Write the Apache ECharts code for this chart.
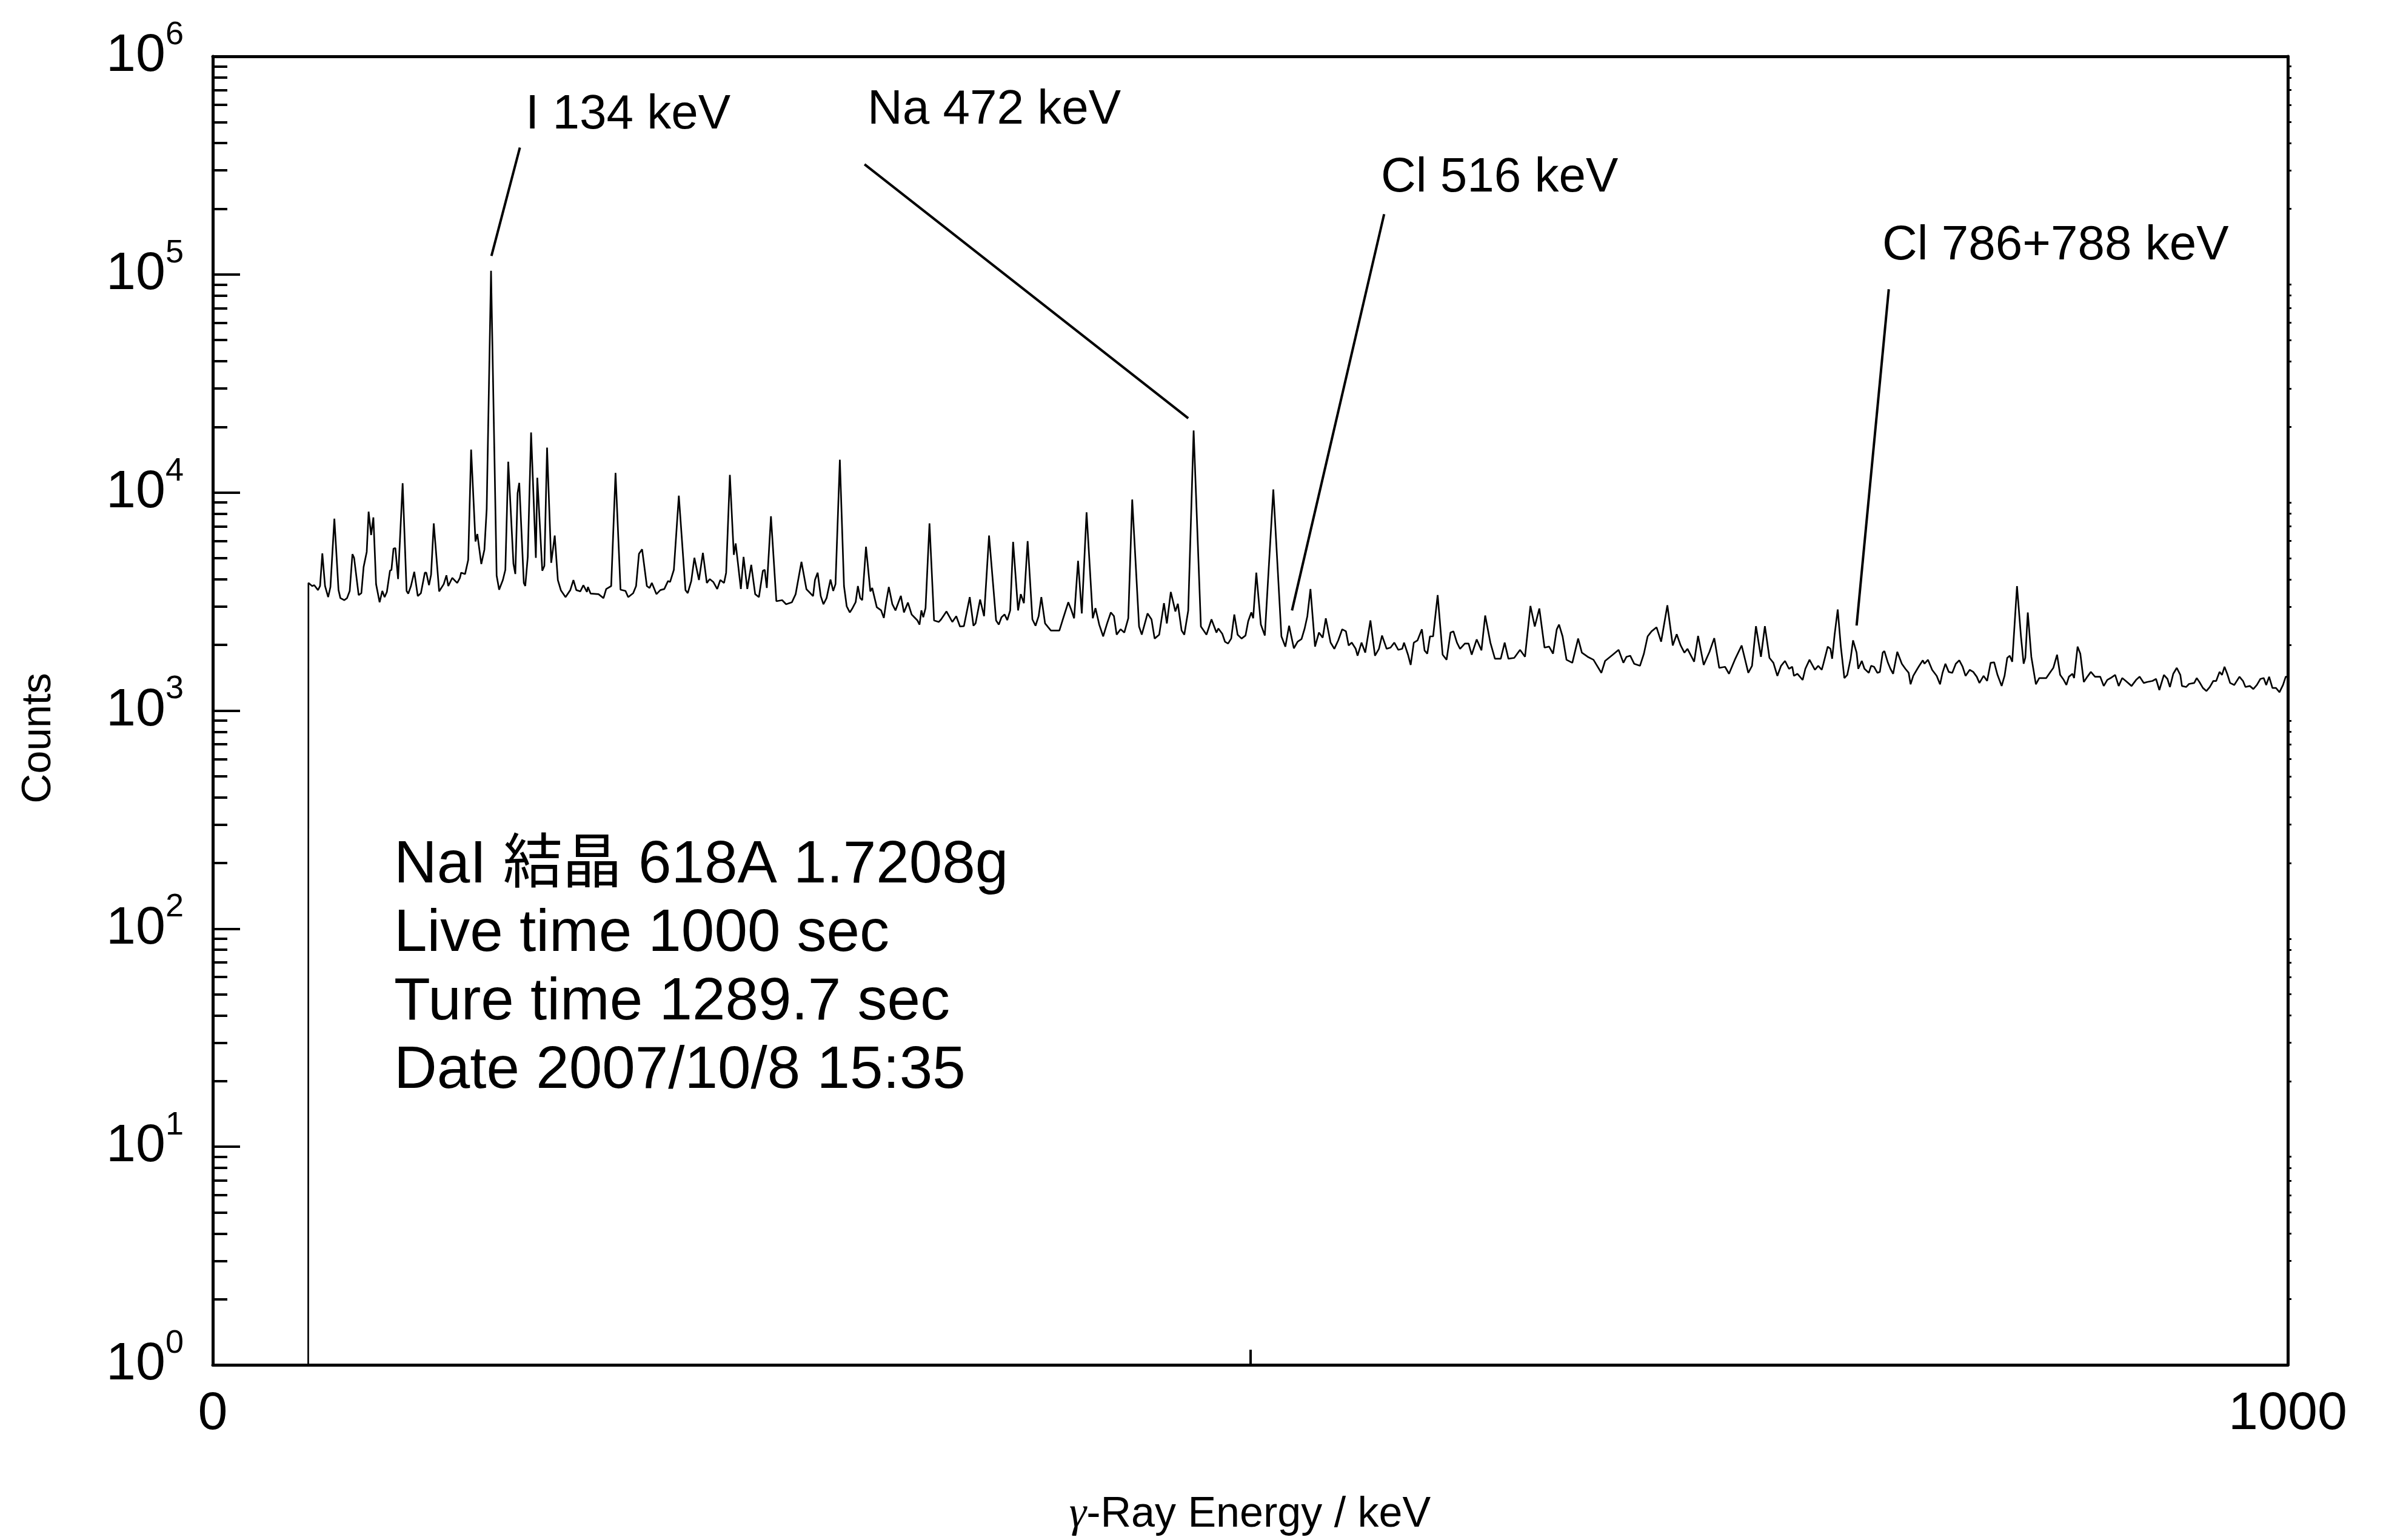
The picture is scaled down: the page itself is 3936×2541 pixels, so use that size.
<!DOCTYPE html>
<html><head><meta charset="utf-8">
<script src="https://cdn.jsdelivr.net/npm/echarts@6/dist/echarts.min.js"></script>
<style>html,body{margin:0;padding:0;background:#fff}#c{width:3936px;height:2541px}</style>
</head><body><div id="c"></div>
<script>
// ---------------- DATA ----------------
const energyKeV = [
46.0,46.1,46.6,47.9,48.9,50.7,51.7,52.8,54.1,55.6,56.7,58.6,60.6,61.5,63.4,64.7,66.0,67.3,68.1,70.3,
71.6,72.7,74.2,75.1,76.3,77.4,78.7,80.4,81.7,82.8,83.9,85.4,86.1,87.1,88.0,89.3,91.5,93.4,94.2,95.5,
97.1,98.8,100.3,102.2,102.9,104.2,105.2,106.5,109.1,111.3,112.6,113.5,115.4,117.8,119.1,119.7,121.6,123.1,124.5,126.6,
127.5,129.4,130.9,132.0,134.1,136.8,138.0,139.8,141.0,142.4,144.9,145.8,146.9,147.7,149.9,150.6,151.8,153.4,155.7,156.4,
158.8,159.8,161.1,163.1,164.8,166.3,167.8,170.0,172.3,173.8,175.2,177.1,178.6,180.3,180.8,182.1,185.9,188.3,189.6,192.0,
194.1,196.5,198.9,200.2,202.6,204.0,205.4,206.9,209.2,210.5,211.6,213.8,215.7,217.6,219.4,220.4,222.2,224.6,227.8,228.9,
230.6,232.1,234.3,236.2,238.1,239.5,241.2,243.1,244.6,246.4,247.4,249.2,251.1,252.0,254.5,255.8,257.6,259.5,261.4,263.2,
265.1,266.0,267.0,269.0,271.6,274.4,276.3,279.1,280.9,283.7,286.1,287.4,289.3,290.2,291.5,293.0,294.3,295.8,297.7,299.0,
300.1,302.2,304.2,305.5,307.0,308.3,309.8,310.9,312.0,313.0,314.8,316.9,317.8,320.0,322.1,323.4,324.5,325.8,327.5,329.0,
331.6,333.1,335.0,336.8,338.1,339.6,340.6,341.5,342.4,343.5,345.4,347.6,349.9,351.0,353.6,356.4,358.3,360.1,362.0,364.8,
366.6,367.6,369.8,371.7,374.1,377.5,378.8,380.1,381.6,382.9,384.3,385.7,388.1,389.4,390.9,392.7,395.0,396.5,398.0,399.3,
401.1,403.9,405.8,408.0,409.5,412.3,413.6,415.1,417.0,418.8,421.1,424.1,425.4,427.2,429.1,431.0,432.8,434.3,435.6,437.5,
439.3,441.2,443.1,446.4,447.7,450.5,452.4,453.9,456.1,458.4,459.8,461.7,463.9,465.1,466.9,468.2,470.1,472.7,476.2,478.9,
481.3,483.7,484.6,486.5,487.8,489.3,490.8,492.3,493.9,495.8,497.7,499.0,500.5,501.4,502.9,505.1,507.0,511.1,515.0,516.9,
518.7,521.0,522.8,524.7,526.2,527.5,529.0,531.2,533.1,534.9,536.4,538.7,540.5,542.4,544.3,546.1,547.4,548.9,550.8,551.7,
553.6,555.4,557.9,560.1,562.0,563.5,565.7,567.6,569.4,571.3,573.2,574.1,576.0,577.3,578.8,580.6,582.7,584.0,585.3,586.6,
588.1,590.3,592.7,594.6,596.5,597.9,599.6,601.1,603.4,605.2,606.7,609.1,611.4,613.2,615.7,617.9,620.7,622.6,624.4,627.2,
630.0,632.4,635.0,637.1,639.3,641.8,644.0,645.9,647.7,648.8,650.5,652.4,655.2,658.0,659.8,662.6,665.4,669.2,671.0,674.7,
677.5,679.8,681.3,683.1,685.0,687.8,689.7,691.5,693.4,695.8,698.0,701.0,703.6,705.5,707.4,709.2,710.7,713.9,715.8,718.5,
721.3,723.6,726.0,728.8,730.7,733.5,736.8,740.0,741.8,743.7,746.1,748.0,750.2,752.1,754.0,755.8,757.7,759.6,761.2,762.0,
763.7,766.2,767.5,769.5,772.1,773.7,775.4,776.2,778.3,779.6,780.4,781.6,783.1,784.6,786.3,787.7,789.3,790.5,792.2,793.0,
794.7,796.0,798.1,799.2,800.6,802.2,803.4,804.8,805.6,807.3,808.5,809.8,811.8,814.0,815.7,817.3,818.2,819.5,821.5,822.4,
824.1,824.9,826.6,828.6,830.8,832.4,833.6,835.0,836.6,838.3,840.0,841.7,843.3,844.7,846.7,848.4,850.1,851.4,853.4,855.1,
856.8,858.5,860.1,862.1,863.5,864.8,866.0,867.2,869.5,871.4,872.7,873.5,874.7,876.4,878.6,880.2,883.6,885.3,887.0,888.8,
890.3,892.0,893.3,894.5,896.2,897.0,898.7,900.0,901.7,903.4,905.1,907.1,909.6,911.3,913.0,914.6,916.8,918.5,920.2,921.9,
924.7,926.9,928.6,930.6,932.3,934.8,936.5,938.1,940.3,942.0,943.2,944.8,946.5,948.2,949.0,951.0,952.4,954.9,956.1,957.4,
959.1,960.8,962.4,964.1,965.5,967.1,968.3,969.5,970.8,972.2,974.2,976.7,978.4,979.6,981.7,983.4,985.1,986.8,988.4,989.6,
991.0,992.6,994.3,996.0,997.7,999.0,1000.0
];
const counts = [
1,3850,3880,3725,3760,3570,3725,5260,3725,3315,3690,7590,3570,3280,3210,3280,3540,5220,5020,3385,
3455,4560,5350,8170,6380,7690,3800,3140,3540,3315,3500,4380,4420,5530,5560,4010,11030,3540,3440,3725,
4330,3350,3455,4290,4290,3760,4200,7220,3520,3800,4170,3725,4060,3850,4060,4290,4230,4910,15740,5960,
6450,4700,5470,8380,104000,4160,3585,3970,4420,13840,4710,4230,9940,11070,3850,3725,5070,18850,5020,11680,
4380,4610,16080,4760,6350,3970,3555,3315,3570,3970,3570,3520,3760,3500,3690,3440,3420,3280,3610,3725,
12310,3585,3540,3315,3455,3725,5240,5490,3725,3650,3850,3420,3570,3610,3930,3890,4420,9670,3570,3455,
3930,5020,3970,5290,3850,4010,3890,3610,3970,3850,4290,12050,5180,5840,3610,5070,3610,4660,3420,3315,
4380,4420,3650,7780,3175,3210,3075,3140,3420,4810,3600,3500,3350,3970,4290,3350,3075,3280,3990,3540,
3800,14140,3725,3010,2820,2950,3140,3725,3280,3210,5640,3520,3650,2980,2880,2660,3140,3690,3075,2880,
3360,2820,3130,2760,2680,2590,2480,2880,2680,2950,7220,2590,2550,2620,2850,2550,2710,2430,2440,3315,
2450,2510,3230,2710,6350,2590,2480,2680,2760,2600,2880,5940,2880,3420,3110,5990,2620,2450,2710,3315,
2510,2330,2330,2330,2590,3140,2920,2650,4860,2790,8120,2650,2950,2480,2190,2510,2820,2710,2230,2360,
2280,2650,9290,2430,2230,2790,2620,2140,2230,3110,2510,3500,2850,3090,2330,2230,2880,19260,2430,2230,
2620,2280,2380,2250,2070,2030,2140,2760,2230,2140,2210,2570,2820,2650,4290,2480,2210,10330,2190,1965,
2450,1930,2070,2130,2380,2710,3610,1965,2280,2160,2650,2050,1920,2100,2360,2310,1990,2050,1920,1785,
2050,1845,2590,1785,1920,2210,1920,1945,2050,1900,1920,2050,1805,1620,2050,2100,2360,1885,1825,2190,
2190,3385,1805,1710,2280,2310,2050,1920,2030,2030,1805,2120,1890,2730,2050,1729,1729,2050,1729,1745,
1900,1765,3020,2430,2940,1945,1965,1825,2360,2480,2190,1710,1657,2140,1845,1765,1710,1490,1690,1805,
1900,1657,1765,1785,1640,1605,1825,2190,2310,2410,2070,3040,1990,2240,1990,1845,1920,1675,2200,1620,
1860,2150,1570,1588,1475,1710,1990,1490,1605,2440,1765,2440,1745,1657,1443,1605,1690,1555,1588,1443,
1475,1383,1555,1710,1538,1605,1538,1640,1965,1920,1729,2230,2910,1965,1410,1458,1729,2100,1845,1555,
1690,1555,1490,1605,1588,1490,1505,1845,1875,1657,1555,1475,1860,1640,1555,1490,1320,1443,1555,1605,
1700,1640,1710,1538,1443,1320,1490,1640,1505,1490,1640,1700,1588,1443,1538,1505,1430,1339,1443,1368,
1657,1665,1458,1297,1443,1745,1785,1675,3725,2190,1640,1745,2820,1765,1320,1410,1410,1490,1570,1804,
1458,1383,1311,1430,1475,1410,1965,1825,1353,1430,1505,1430,1430,1297,1383,1410,1458,1297,1410,1368,
1297,1383,1430,1339,1353,1368,1397,1243,1458,1397,1283,1475,1570,1458,1297,1283,1325,1339,1410,1353,
1270,1230,1283,1368,1368,1505,1458,1588,1475,1339,1311,1430,1368,1283,1297,1256,1311,1397,1410,1311,
1430,1270,1270,1215,1311,1430,1430
];
const xTickValues = [0, 500, 1000];
const xTickLabels = ['0', '', '1000'];
const yMajorTicks = [1, 10, 100, 1000, 10000, 100000, 1000000];
const yTickExponents = ['0', '1', '2', '3', '4', '5', '6'];
const yMinorMultipliers = [2, 3, 4, 5, 6, 7, 8, 9];
const annotationLabels = ['I 134 keV', 'Na 472 keV', 'Cl 516 keV', 'Cl 786+788 keV'];
const leaderStart = [[148.0, 382000], [314.1, 320000], [564.5, 189000], [807.7, 85500]];
const leaderEnd = [[134.3, 121600], [470.1, 21900], [520.1, 2880], [792.2, 2455]];
const infoLines = ['NaI 結晶 618A 1.7208g', 'Live time 1000 sec', 'Ture time 1289.7 sec', 'Date 2007/10/8 15:35'];
const xAxisTitle = ['γ', '-Ray Energy / keV'];
const yAxisTitle = 'Counts';

// ---------------- LAYOUT ----------------
const FONT = '"Liberation Sans", Arial, "Noto Sans CJK JP", sans-serif';
const spectrum = energyKeV.map((e, i) => [e, counts[i]]);
const yMinorTicks = [];
yMajorTicks.slice(0, -1).forEach(d => yMinorMultipliers.forEach(m => yMinorTicks.push(d * m)));

const annotationTextPos = [[867, 190], [1431, 182], [2278, 294], [3105, 406]];

const chart = echarts.init(document.getElementById('c'), null, {renderer: 'canvas'});
const logAxisBase = {
  type: 'log', logBase: 10, min: 1, max: 1000000,
  splitLine: {show: false}, minorSplitLine: {show: false}
};
chart.setOption({
  animation: false,
  backgroundColor: '#fff',
  grid: {left: 351, right: 162, top: 93, bottom: 289, containLabel: false, outerBoundsMode: 'none'},
  xAxis: [{
    type: 'value', min: 0, max: 1000, interval: 500,
    axisLine: {show: true, onZero: false, lineStyle: {color: '#000', width: 5}},
    axisTick: {show: true, inside: true, length: 25, lineStyle: {color: '#000', width: 4}},
    axisLabel: {show: true, fontSize: 88, fontFamily: FONT, color: '#000', margin: 38,
      formatter: v => xTickLabels[xTickValues.indexOf(v)] || ''},
    splitLine: {show: false}
  }, {
    type: 'value', min: 0, max: 1000, position: 'top',
    axisLine: {show: true, onZero: false, lineStyle: {color: '#000', width: 5}},
    axisTick: {show: false}, axisLabel: {show: false}, splitLine: {show: false}
  }],
  yAxis: [Object.assign({}, logAxisBase, {
    position: 'left',
    axisLine: {show: true, lineStyle: {color: '#000', width: 5}},
    axisTick: {show: true, inside: true, length: 45, lineStyle: {color: '#000', width: 4}},
    axisLabel: {show: true, margin: 48, color: '#000',
      formatter: v => '{b|10}{s|' + yTickExponents[Math.round(Math.log10(v))] + '}',
      rich: {
        b: {fontSize: 88, fontFamily: FONT, color: '#000', lineHeight: 124},
        s: {fontSize: 54, fontFamily: FONT, color: '#000', lineHeight: 54, verticalAlign: 'top'}
      }}
  }), Object.assign({}, logAxisBase, {
    position: 'left',
    axisLine: {show: false},
    axisTick: {show: true, inside: true, length: 24, customValues: yMinorTicks, lineStyle: {color: '#000', width: 4}},
    axisLabel: {show: false}
  }), Object.assign({}, logAxisBase, {
    position: 'right',
    axisLine: {show: true, lineStyle: {color: '#000', width: 5}},
    axisTick: {show: true, inside: false, length: 6, customValues: yMinorTicks, lineStyle: {color: '#000', width: 3}},
    axisLabel: {show: false}
  })],
  series: [{
    type: 'line', xAxisIndex: 0, yAxisIndex: 0, data: spectrum,
    showSymbol: false, symbol: 'none', smooth: false,
    lineStyle: {color: '#000', width: 2.7}, itemStyle: {color: '#000'},
    markLine: {
      silent: true, symbol: ['none', 'none'], label: {show: false},
      lineStyle: {color: '#000', width: 4, type: 'solid'},
      emphasis: {disabled: true},
      data: leaderStart.map((s, i) => [{coord: s}, {coord: leaderEnd[i]}])
    }
  }],
  graphic: [
    {type: 'text', x: 650, y: 1598, silent: true, style: {
      text: infoLines.join('\n'), fontSize: 98, lineHeight: 113, fontFamily: FONT, fill: '#000',
      align: 'left', verticalAlign: 'middle'}},
    {type: 'text', x: 64, y: 1218, rotation: Math.PI / 2, silent: true, style: {
      text: yAxisTitle, fontSize: 68, fontFamily: FONT, fill: '#000', align: 'center', verticalAlign: 'middle'}},
    {type: 'text', x: 2062, y: 2500, silent: true, style: {
      text: '{g|' + xAxisTitle[0] + '}{t|' + xAxisTitle[1] + '}', fill: '#000', align: 'center', verticalAlign: 'middle',
      rich: {
        g: {fontSize: 72, fontFamily: '"Liberation Serif", "DejaVu Serif", serif', fontStyle: 'italic', fill: '#000'},
        t: {fontSize: 70, fontFamily: FONT, fill: '#000'}
      }}}
  ].concat(annotationLabels.map((t, i) => ({
    type: 'text', x: annotationTextPos[i][0], y: annotationTextPos[i][1], silent: true,
    style: {text: t, fontSize: 80, fontFamily: FONT, fill: '#000', align: 'left', verticalAlign: 'middle'}
  })))
});
</script></body></html>
